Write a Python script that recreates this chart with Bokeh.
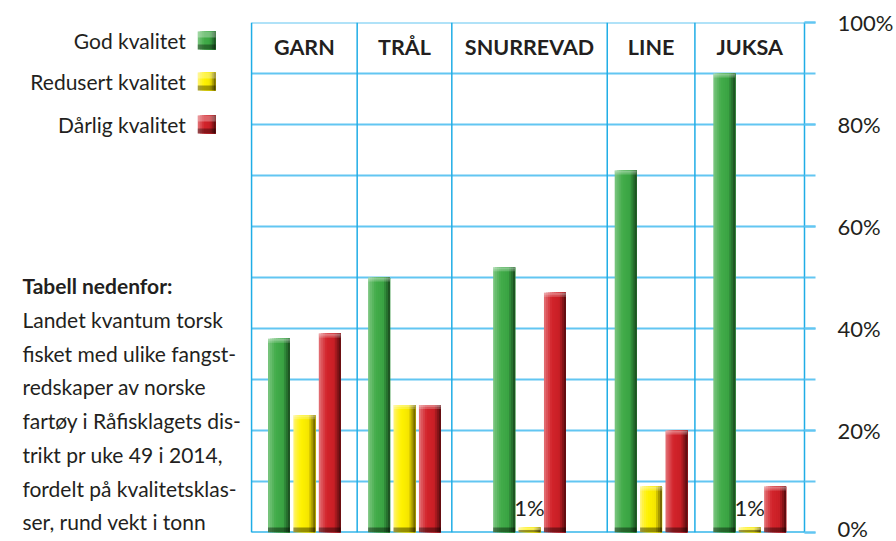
import numpy as np
from bokeh.plotting import figure
from bokeh.models import ColumnDataSource, Range1d, SingleIntervalTicker, PrintfTickFormatter
from bokeh.core.properties import value
from bokeh.transform import dodge
from bokeh.embed import file_html
from bokeh.resources import INLINE

# ---------------- data ----------------
gears = ["GARN", "TRÅL", "SNURREVAD", "LINE", "JUKSA"]
god = [38, 50, 52, 71, 90]
redusert = [23, 25, 1, 9, 1]
darlig = [39, 25, 47, 20, 9]
series_names = ["God kvalitet", "Redusert kvalitet", "Dårlig kvalitet"]
y_tick_step = 20
y_minor_step = 10
note_title = "Tabell nedenfor:"
note_lines = [
    "Landet kvantum torsk",
    "fisket med ulike fangst-",
    "redskaper av norske",
    "fartøy i Råfisklagets dis-",
    "trikt pr uke 49 i 2014,",
    "fordelt på kvalitetsklas-",
    "ser, rund vekt i tonn",
]

# ---------------- layout / style ----------------
W, H = 896, 541
FRAME_TOP, FRAME_BOTTOM = 22, 532          # canvas px
PX_PER_PCT = (FRAME_BOTTOM - FRAME_TOP) / 100.0
col_edges = [252, 358, 453, 609, 697, 807]  # canvas px of vertical grid lines
bar_offsets = [-25.5, 0, 25.5]
BAR_W = 22
TEXT = "#231f20"
FONT = value("Lato")
H_LINE = "#62c6f2"
V_LINE = "#1fade6"

def ypg(y_px):
    return (FRAME_BOTTOM - y_px) / PX_PER_PCT

def hex2rgb(h):
    h = h.lstrip("#")
    return [int(h[i:i + 2], 16) for i in (0, 2, 4)]

def interp(stops, t):
    pos = [s[0] for s in stops]
    cols = [hex2rgb(s[1]) for s in stops]
    for j in range(len(pos) - 1):
        if pos[j] <= t <= pos[j + 1]:
            f = (t - pos[j]) / (pos[j + 1] - pos[j])
            c = [round(cols[j][k] + f * (cols[j + 1][k] - cols[j][k])) for k in range(3)]
            return "#%02x%02x%02x" % tuple(c)
    return stops[-1][1]

gradients = [
    [(0, "#7cc781"), (0.18, "#5fb965"), (0.35, "#43ac4a"), (0.68, "#3aa443"), (0.85, "#277530"), (1, "#1a461e")],
    [(0, "#fff37a"), (0.18, "#fff22e"), (0.35, "#fff200"), (0.68, "#f5e600"), (0.85, "#ad9f00"), (1, "#5f5400")],
    [(0, "#e3757a"), (0.18, "#da4a50"), (0.35, "#d3242b"), (0.68, "#c91f26"), (0.85, "#8c1519"), (1, "#4e0b0d")],
]

centers = [(col_edges[i] + col_edges[i + 1]) / 2 for i in range(len(gears))]

p = figure(width=W, height=H, x_range=Range1d(0, col_edges[-1]), y_range=Range1d(0, 100),
           x_axis_location=None, y_axis_location="right",
           output_backend="svg", toolbar_location=None,
           min_border_left=0, min_border_right=W - col_edges[-1],
           min_border_top=FRAME_TOP, min_border_bottom=H - FRAME_BOTTOM,
           outline_line_color=None, background_fill_color="white", border_fill_color="white")
p.xgrid.visible = False
p.ygrid.visible = False

# grid lines
levels = list(range(0, 101, y_minor_step))
p.segment(x0=[col_edges[0]] * len(levels), x1=[col_edges[-1]] * len(levels), y0=levels, y1=levels,
          line_color=H_LINE, line_width=2)
p.segment(x0=col_edges[:-1], x1=col_edges[:-1], y0=[0] * (len(col_edges) - 1), y1=[100] * (len(col_edges) - 1),
          line_color=V_LINE, line_width=1.5)
p.segment(x0=[col_edges[0]], x1=[col_edges[-1]], y0=[0], y1=[0], line_color=V_LINE, line_width=2)

# headers
p.text(x=centers, y=[ypg(46)] * len(gears), text=gears, text_font=FONT, text_font_size="21.5px",
       text_font_style="bold", text_color=TEXT, text_align="center", text_baseline="middle")

# bars (overlapping stripes give a left-to-right shading)
N = 11
sw = BAR_W / N
cap = 4 / PX_PER_PCT
for k, vals in enumerate([god, redusert, darlig]):
    vals = np.array(vals, dtype=float)
    src = ColumnDataSource(dict(
        x=[c + bar_offsets[k] for c in centers],
        top=vals,
        cap_bottom=vals - cap,
        cap2_bottom=vals - cap / 2,
        band_top=np.minimum(vals * 0.5, 5 / PX_PER_PCT),
        label=["%d%%" % v if v < 2 else "" for v in vals],
        label_y=vals + 1.3,
    ))
    for i in range(N):
        t = (i + 0.5) / N
        wdt = BAR_W - i * sw
        p.vbar(x=dodge("x", BAR_W / 2 - wdt / 2, range=p.x_range), top="top", bottom=0,
               width=wdt, source=src, fill_color=interp(gradients[k], t), line_color=None)
    p.vbar(x="x", top="top", bottom="cap_bottom", width=BAR_W, source=src,
           fill_color="white", fill_alpha=0.22, line_color=None)
    p.vbar(x="x", top="top", bottom="cap2_bottom", width=BAR_W, source=src,
           fill_color="white", fill_alpha=0.22, line_color=None)
    p.vbar(x="x", top="band_top", bottom=0, width=BAR_W, source=src,
           fill_color="black", fill_alpha=0.4, line_color=None)
    p.text(x="x", y="label_y", text="label", source=src, text_font=FONT, text_font_size="22px",
           text_color=TEXT, text_align="center", text_baseline="bottom")

# legend (label then swatch)
leg_y = [40, 81, 124]
for k, name in enumerate(series_names):
    yc = leg_y[k]
    p.text(x=[186], y=[ypg(yc)], text=[name], text_font=FONT, text_font_size="21px",
           text_color=TEXT, text_align="right", text_baseline="middle")
    ns = 9
    for i in range(ns):
        t = (i + 0.5) / ns
        p.quad(left=[198 + i * 2], right=[216], top=[ypg(yc - 9)], bottom=[ypg(yc + 9)],
               fill_color=interp(gradients[k], t), line_color=None)
    p.quad(left=[198], right=[216], top=[ypg(yc - 9)], bottom=[ypg(yc - 3)],
           fill_color="white", fill_alpha=0.3, line_color=None)
    p.quad(left=[198], right=[216], top=[ypg(yc + 4)], bottom=[ypg(yc + 9)],
           fill_color="black", fill_alpha=0.35, line_color=None)

# note text
p.text(x=[22], y=[ypg(285)], text=[note_title], text_font=FONT, text_font_size="21px",
       text_font_style="bold", text_color=TEXT, text_align="left", text_baseline="middle")
note_y = [ypg(319 + i * 33.7) for i in range(len(note_lines))]
p.text(x=[22] * len(note_lines), y=note_y, text=note_lines, text_font=FONT, text_font_size="21px",
       text_color=TEXT, text_align="left", text_baseline="middle")

# right axis
ax = p.yaxis[0]
ax.ticker = SingleIntervalTicker(interval=y_tick_step, num_minor_ticks=y_tick_step // y_minor_step)
ax.formatter = PrintfTickFormatter(format="%d%%")
ax.axis_line_color = V_LINE
ax.axis_line_width = 1.5
ax.major_tick_line_color = H_LINE
ax.minor_tick_line_color = H_LINE
ax.major_tick_line_width = 2
ax.minor_tick_line_width = 2
ax.major_tick_in = 0
ax.minor_tick_in = 0
ax.major_tick_out = 11
ax.minor_tick_out = 11
ax.major_label_standoff = 22
ax.major_label_text_font = "Lato"
ax.major_label_text_font_size = "22px"
ax.major_label_text_color = TEXT

with open("out.html", "w") as f:
    f.write(file_html(p, INLINE))
